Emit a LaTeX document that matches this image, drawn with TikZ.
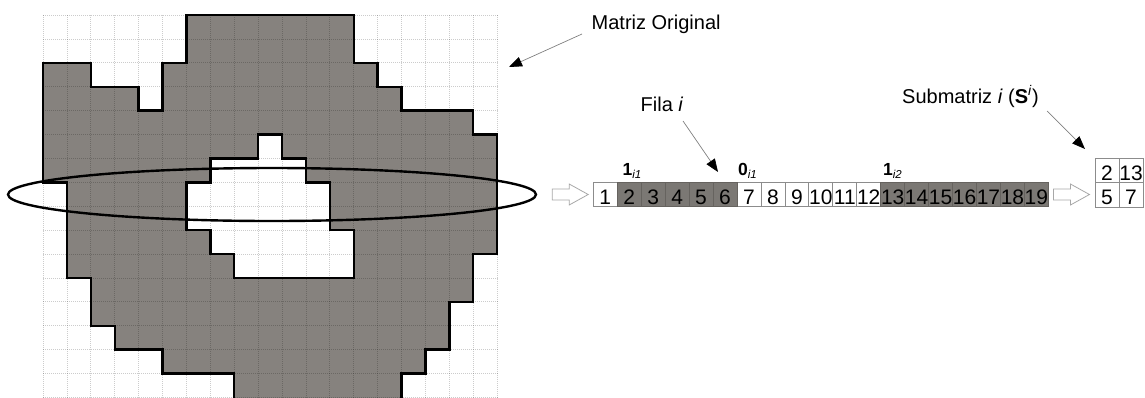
\documentclass[tikz,border=0pt]{standalone}
\usepackage{fontspec}
\setmainfont{Liberation Sans}
\usetikzlibrary{arrows.meta,shapes.geometric}

\definecolor{regiongray}{HTML}{86827E}
\definecolor{cellgray}{HTML}{7B7874}
\definecolor{celledge}{HTML}{8C8C8C}
\definecolor{darkedge}{HTML}{66635F}
\definecolor{hollowedge}{HTML}{A8A8A8}

% bold index with a small italic subscript
\newcommand\idxlabel[2]{{\fontsize{17.5}{17.5}\selectfont\bfseries #1}\raisebox{-3pt}{\fontsize{11.5}{11.5}\selectfont\itshape #2}}

\begin{document}
\begin{tikzpicture}[x=1pt, y=-1pt,
  gridline/.style={black, opacity=0.2, line width=0.8pt, dash pattern=on 1pt off 1pt},
  outline/.style={black, line width=2.4pt, line join=miter},
  numcell/.style={minimum width=23.95pt, minimum height=24.5pt, inner sep=0pt,
    text height=19pt, text depth=0pt, font=\fontsize{21}{21}\selectfont, line width=0.8pt},
  wcell/.style={numcell, draw=celledge, fill=white},
  gcell/.style={numcell, draw=darkedge, fill=cellgray},
  caption/.style={anchor=base west, inner sep=0pt, font=\fontsize{20}{24}\selectfont},
  idx/.style={anchor=base west, inner sep=0pt},
  pointer/.style={draw=gray, line width=0.7pt, -{Triangle[length=13pt,width=10pt,color=black]}},
  hollowline/.style={draw=hollowedge, line width=0.8pt, fill=white},
  hollow/.pic={\draw[hollowline] (0,-5.5) -- (17,-5.5) -- (17,-10.5) -- (36,0)
      -- (17,10.5) -- (17,5.5) -- (0,5.5) -- cycle;}
]
\useasboundingbox (0,0) rectangle (1145,397);

% ---- binary image on a 19-column grid ----
\begin{scope}
  \clip (0,0) rectangle (1145,397);
  \begin{scope}[xshift=43pt, yshift=-15pt, x=23.9pt, y=-23.9pt]
    \fill[regiongray, even odd rule]
      (6,0) -- (13,0) -- (13,2) -- (14,2) -- (14,3) -- (15,3) -- (15,4) -- (18,4)
      -- (18,5) -- (19,5) -- (19,10) -- (18,10) -- (18,12) -- (17,12) -- (17,14)
      -- (16,14) -- (16,15) -- (15,15) -- (15,17) -- (8,17) -- (8,15) -- (5,15)
      -- (5,14) -- (3,14) -- (3,13) -- (2,13) -- (2,11) -- (1,11) -- (1,7) -- (0,7)
      -- (0,2) -- (2,2) -- (2,3) -- (4,3) -- (4,4) -- (5,4) -- (5,2) -- (6,2) -- cycle
      (9,5) -- (10,5) -- (10,6) -- (11,6) -- (11,7) -- (12,7) -- (12,9) -- (13,9)
      -- (13,11) -- (8,11) -- (8,10) -- (7,10) -- (7,9) -- (6,9) -- (6,7) -- (7,7)
      -- (7,6) -- (9,6) -- cycle;
    \foreach \c in {0,...,19} \draw[gridline] (\c,0) -- (\c,17);
    \foreach \r in {0,...,16} \draw[gridline] (0,\r) -- (19,\r);
    \draw[outline]
      (6,0) -- (13,0) -- (13,2) -- (14,2) -- (14,3) -- (15,3) -- (15,4) -- (18,4)
      -- (18,5) -- (19,5) -- (19,10) -- (18,10) -- (18,12) -- (17,12) -- (17,14)
      -- (16,14) -- (16,15) -- (15,15) -- (15,17) -- (8,17) -- (8,15) -- (5,15)
      -- (5,14) -- (3,14) -- (3,13) -- (2,13) -- (2,11) -- (1,11) -- (1,7) -- (0,7)
      -- (0,2) -- (2,2) -- (2,3) -- (4,3) -- (4,4) -- (5,4) -- (5,2) -- (6,2) -- cycle;
    \draw[outline]
      (9,5) -- (10,5) -- (10,6) -- (11,6) -- (11,7) -- (12,7) -- (12,9) -- (13,9)
      -- (13,11) -- (8,11) -- (8,10) -- (7,10) -- (7,9) -- (6,9) -- (6,7) -- (7,7)
      -- (7,6) -- (9,6) -- cycle;
  \end{scope}
\end{scope}

% selected row
\node[ellipse, draw, line width=2.4pt, minimum width=528pt, minimum height=53pt,
  inner sep=0pt] (sel) at (272,194.5) {};

% ---- row i as a strip of cells ----
\foreach \i in {1,7,8,9,10,11,12}
  \node[wcell] (c\i) at ({593.3+23.95*(\i-0.5)},194.5) {\i};
\foreach \i in {2,3,4,5,6,13,14,15,16,17,18,19}
  \node[gcell] (c\i) at ({593.3+23.95*(\i-0.5)},194.5) {\i};

\node[idx] (one1) at (622.5,175) {\idxlabel{1}{i1}};
\node[idx] (zero1) at (738,175) {\idxlabel{0}{i1}};
\node[idx] (one2) at (883,175) {\idxlabel{1}{i2}};

% ---- submatrix ----
\node[wcell] (s11) at (1107,171) {2};
\node[wcell] (s12) at (1131,171) {13};
\node[wcell] (s21) at (1107,195) {5};
\node[wcell] (s22) at (1131,195) {7};

% hollow arrows between the stages
\pic at ([xshift=15pt]sel.east) {hollow};
\pic at ([xshift=4.7pt]c19.east) {hollow};

% ---- captions and pointers ----
\node[caption] (morig) at (591.5,29) {Matriz Original};
\node[caption] (fila) at (640.5,111) {Fila \textit{i}};
\node[caption] (subm) at (902,103) {Submatriz \textit{i} (\textbf{S}\textsuperscript{\textit{i}})};

\coordinate (morig-from) at (582,34);
\coordinate (morig-to) at (509,67);
\coordinate (fila-from) at (683,121);
\coordinate (fila-to) at (718,172);
\coordinate (subm-from) at (1047,111);
\coordinate (subm-to) at (1085,149);
\draw[pointer] (morig-from) -- (morig-to);
\draw[pointer] (fila-from) -- (fila-to);
\draw[pointer] (subm-from) -- (subm-to);
\end{tikzpicture}
\end{document}
